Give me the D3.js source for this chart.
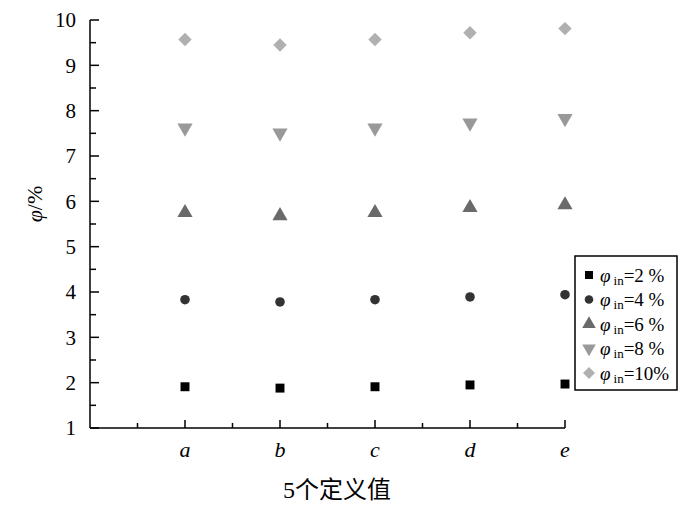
<!DOCTYPE html>
<html><head><meta charset="utf-8">
<script src="https://cdn.jsdelivr.net/npm/d3@7"></script>
<style>body{margin:0;background:#fff}svg{display:block}</style>
</head><body>
<svg id="c" width="700" height="507"></svg>
<script>
const categories = ["a","b","c","d","e"];
const seriesNames = ["2 %","4 %","6 %","8 %","10%"];
const s2  = [1.91, 1.88, 1.91, 1.95, 1.97];
const s4  = [3.83, 3.78, 3.83, 3.89, 3.94];
const s6  = [5.75, 5.68, 5.75, 5.86, 5.92];
const s8  = [7.62, 7.51, 7.62, 7.73, 7.83];
const s10 = [9.57, 9.45, 9.57, 9.72, 9.81];
const yTicks = [1,2,3,4,5,6,7,8,9,10];

const series = [s2, s4, s6, s8, s10];
const shapes = [d3.symbolSquare, d3.symbolCircle, d3.symbolTriangle, d3.symbolTriangle, d3.symbolSquare];
const sizes = [80, 72, 100, 100, 90];
const rots = [0, 0, 0, 180, 45];
const colors = ["#000000", "#333333", "#6a6a6a", "#999999", "#b0b0b0"];
const serif = "Liberation Serif";

const svg = d3.select("#c");
const x = d3.scaleLinear().domain([0, 5]).range([90, 565]);
const y = d3.scaleLinear().domain([1, 10]).range([428, 20]);

// axes
const gx = svg.append("g").attr("transform", "translate(0,428)");
gx.append("line").attr("x1", x(0)).attr("x2", x(5)).attr("y1", 0).attr("y2", 0).attr("stroke", "#000").attr("stroke-width", 1.5);
const xMajor = d3.range(1, 6);
const xMinor = d3.range(0.5, 5, 1);
gx.selectAll(".xmaj").data(xMajor).join("line").attr("x1", d => x(d)).attr("x2", d => x(d)).attr("y1", 0).attr("y2", -8).attr("stroke", "#000").attr("stroke-width", 1.5);
gx.selectAll(".xmin").data(xMinor).join("line").attr("x1", d => x(d)).attr("x2", d => x(d)).attr("y1", 0).attr("y2", -5).attr("stroke", "#000").attr("stroke-width", 1.5);
gx.selectAll(".xl").data(categories).join("text").attr("x", (d, i) => x(i + 1)).attr("y", 29)
  .attr("text-anchor", "middle").attr("font-family", serif).attr("font-style", "italic").attr("font-size", 22).text(d => d);

const gy = svg.append("g").attr("transform", "translate(90,0)");
gy.append("line").attr("x1", 0).attr("x2", 0).attr("y1", y(1)).attr("y2", y(10)).attr("stroke", "#000").attr("stroke-width", 1.5);
const yMinor = d3.range(1.5, 10, 1);
gy.selectAll(".ymaj").data(yTicks).join("line").attr("x1", 0).attr("x2", 9).attr("y1", d => y(d)).attr("y2", d => y(d)).attr("stroke", "#000").attr("stroke-width", 1.5);
gy.selectAll(".ymin").data(yMinor).join("line").attr("x1", 0).attr("x2", 6).attr("y1", d => y(d)).attr("y2", d => y(d)).attr("stroke", "#000").attr("stroke-width", 1.5);
gy.selectAll(".yl").data(yTicks).join("text").attr("x", -14).attr("y", d => y(d)).attr("dy", "0.35em")
  .attr("text-anchor", "end").attr("font-family", serif).attr("font-size", 21).text(d => d);

// axis titles
const yt = svg.append("text").attr("transform", "translate(42,204) rotate(-90)").attr("text-anchor", "middle")
  .attr("font-family", serif).attr("font-size", 22);
yt.append("tspan").attr("font-style", "italic").text("φ");
yt.append("tspan").text("/%");

svg.append("text").attr("x", 337).attr("y", 498).attr("text-anchor", "middle")
  .attr("font-family", "Liberation Serif, Noto Sans CJK SC").attr("font-size", 24).text("5个定义值");

// points
series.forEach((vals, si) => {
  const sym = d3.symbol().type(shapes[si]).size(sizes[si]);
  svg.append("g").selectAll("path").data(vals).join("path")
    .attr("d", sym)
    .attr("transform", (d, i) => `translate(${x(i + 1)},${y(d)}) rotate(${rots[si]})`)
    .attr("fill", colors[si]);
});

// legend
const lg = svg.append("g");
lg.append("rect").attr("x", 575).attr("y", 256).attr("width", 102).attr("height", 134)
  .attr("fill", "#fff").attr("stroke", "#000").attr("stroke-width", 1.5);
const rowY = d3.scaleLinear().domain([0, 4]).range([275, 373]);
seriesNames.forEach((n, si) => {
  const ry = rowY(si);
  const sym = d3.symbol().type(shapes[si]).size(sizes[si] * 0.8);
  lg.append("path").attr("d", sym).attr("transform", `translate(589,${ry}) rotate(${rots[si]})`).attr("fill", colors[si]);
  const t = lg.append("text").attr("x", 600).attr("y", ry).attr("dy", "0.35em").attr("font-family", serif).attr("font-size", 19);
  t.append("tspan").attr("font-style", "italic").text("φ");
  t.append("tspan").attr("font-size", 13).attr("dx", 3).attr("dy", 3).text("in");
  t.append("tspan").attr("dy", -3).text("=" + n);
});
</script>
</body></html>
